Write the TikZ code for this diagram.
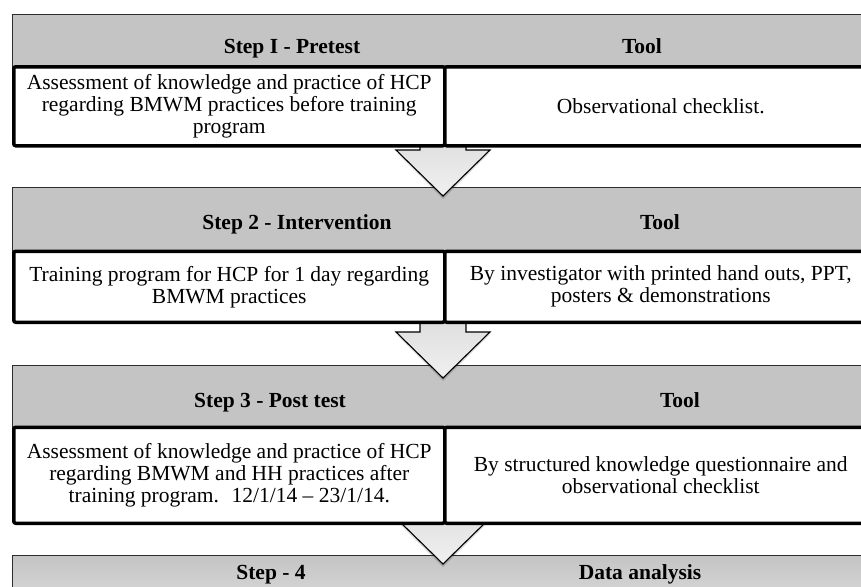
\documentclass[tikz,border=0pt]{standalone}
\usepackage{fontspec}
\setmainfont{Liberation Serif}
\definecolor{bandgray}{RGB}{196,196,196}
\definecolor{bandline}{RGB}{45,45,45}
\definecolor{arrtop}{RGB}{222,222,222}
\definecolor{arrbot}{RGB}{240,240,240}
\tikzset{
  band/.style={draw=bandline, line width=0.9pt, fill=bandgray, anchor=north west,
    inner sep=0pt, minimum width=862pt},
  hdr/.style={anchor=base, inner sep=0pt, font=\bfseries\fontsize{21.5}{22}\selectfont},
  stepbox/.style={draw=black, line width=3.5pt, fill=white, rounded corners=2pt,
    anchor=north west, inner sep=0pt, align=center,
    font=\fontsize{21.5}{22}\selectfont},
  downarr/.pic={
    \fill[black, opacity=0.16] (-22,-14+3) -- (-22,3) -- (-46,3) -- (0,49) -- (46,3) -- (22,3) -- (22,-14+3) -- cycle;
    \draw[line width=1.1pt, top color=arrtop, bottom color=arrbot, line join=miter]
      (-23,-14) -- (-23,0) -- (-47,0) -- (0,46) -- (47,0) -- (23,0) -- (23,-14) -- cycle;
  }
}
\begin{document}
\begin{tikzpicture}[x=1pt,y=-1pt]
\fill[white] (0,0) rectangle (861,586);
\useasboundingbox (0,0) rectangle (861,586);
\clip (0,0) rectangle (861,586);

% header bands
\node[band, minimum height=56pt] (band1) at (12,14) {};
\node[band, minimum height=68pt] (band2) at (12,187) {};
\node[band, minimum height=66pt] (band3) at (12,365) {};
\node[band, minimum height=50pt, top color=bandgray, bottom color={rgb,255:red,218;green,218;blue,218}] (band4) at (12,555) {};

% header texts
\node[hdr] (h1a) at (292,53) {Step I - Pretest};
\node[hdr] (h1b) at (642,53) {Tool};
\node[hdr] (h2a) at (297,229) {Step 2 - Intervention};
\node[hdr] (h2b) at (660,229) {Tool};
\node[hdr] (h3a) at (270,407) {Step 3 - Post test};
\node[hdr] (h3b) at (680,407) {Tool};
\node[hdr] (h4a) at (271,579) {Step - 4};
\node[hdr] (h4b) at (640,579) {Data analysis};

% block arrows
\pic (arr1) at (443,150) {downarr};
\pic (arr2) at (443,332) {downarr};
\pic (arr3) at (443,518) {downarr};

% content boxes
\node[stepbox, minimum width=431pt, minimum height=79pt] (b1l) at (12,65)
  {Assessment of knowledge and practice of HCP\\regarding BMWM practices before training\\program};
\node[stepbox, minimum width=432pt, minimum height=79pt] (b1r) at (443,65)
  {Observational checklist.};

\node[stepbox, minimum width=431pt, minimum height=71pt] (b2l) at (12,249.5)
  {Training program for HCP for 1 day regarding\\BMWM practices};
\node[stepbox, minimum width=432pt, minimum height=71pt] (b2r) at (443,249.5)
  {By investigator with printed hand outs, PPT,\\posters \& demonstrations};

\node[stepbox, minimum width=431pt, minimum height=96pt] (b3l) at (12,425.5)
  {Assessment of knowledge and practice of HCP\\regarding BMWM and HH practices after\\training program.~ 12/1/14 – 23/1/14.};
\node[stepbox, minimum width=432pt, minimum height=96pt] (b3r) at (443,425.5)
  {By structured knowledge questionnaire and\\observational checklist};
\end{tikzpicture}
\end{document}
